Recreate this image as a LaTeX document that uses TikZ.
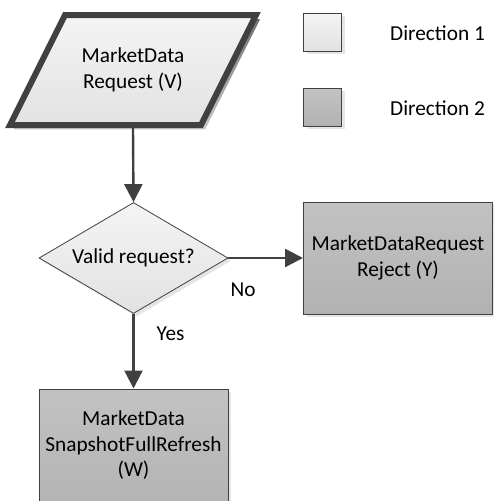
\documentclass[tikz,border=0pt]{standalone}
\usepackage{fontspec}
\setmainfont{Carlito}
\usetikzlibrary{shapes.geometric,arrows.meta,shadows}
\definecolor{edge}{HTML}{404040}
\definecolor{lighttop}{HTML}{F4F4F4}
\definecolor{lightbot}{HTML}{E2E2E2}
\definecolor{darktop}{HTML}{C2C2C2}
\definecolor{darkbot}{HTML}{B2B2B2}
\definecolor{shade}{HTML}{DADADA}
\tikzset{
  lbl/.style={font=\fontsize{21.3}{25.5}\selectfont, text=black, align=center},
  softshadow/.style={drop shadow={shadow xshift=3pt, shadow yshift=-3pt, fill=shade, opacity=0.7}},
  lightfill/.style={top color=lighttop, bottom color=lightbot},
  darkfill/.style={top color=darktop, bottom color=darkbot},
  procbox/.style={lbl, rectangle, draw=edge, line width=1pt, darkfill, softshadow,
    minimum width=189pt, minimum height=112pt, inner sep=0pt},
  decision/.style={lbl, diamond, draw=edge, line width=0.8pt, lightfill, softshadow,
    minimum width=189pt, minimum height=111pt, aspect=1.7, inner sep=0pt},
  keybox/.style={rectangle, draw=edge, line width=0.8pt, softshadow,
    minimum width=38pt, minimum height=38pt, inner sep=0pt},
  flow/.style={draw=edge, line width=2.4pt, -{Triangle[length=18pt, width=18pt]}},
  branch/.style={lbl, inner sep=0pt, anchor=west},
}
\begin{document}
\begin{tikzpicture}[x=1pt, y=-1pt]
  \useasboundingbox (0,0) rectangle (494,501);
  \clip (0,0) rectangle (494,501);

  % input parallelogram with heavy outline
  \fill[shade, opacity=0.7] (69,19) -- (260,19) -- (205,129) -- (14,129) -- cycle;
  \draw[lightfill, draw=edge, line width=6pt, line join=miter]
    (65,15) -- (256,15) -- (201,125) -- (10,125) -- cycle;
  \node[lbl, minimum width=120pt, minimum height=116pt, inner sep=0pt] (req) at (133,70)
    {MarketData\\Request (V)};

  % legend
  \node[keybox, lightfill] (key1) at (322.5,32) {};
  \node[branch] (key1txt) at (390,33) {Direction 1};
  \node[keybox, darkfill] (key2) at (322.5,107) {};
  \node[branch] (key2txt) at (390,108) {Direction 2};

  % decision and outcomes
  \node[decision] (valid) at (133.5,258) {Valid request?};
  \node[procbox] (reject) at (398,258) {MarketDataRequest\\Reject (Y)};
  \node[procbox, minimum height=130pt] (snap) at (133.5,454) {};
  \node[lbl] (snaptxt) at (133.5,445.5) {MarketData\\SnapshotFullRefresh\\(W)};

  % connectors
  \draw[flow] (valid.east) -- (reject.west)
    node[branch, pos=0, xshift=1pt, yshift=-32pt] (no) {No};
  \draw[flow] (req.south) -- (valid.north);
  \draw[flow] (valid.south) -- (snap.north)
    node[branch, pos=0.26, xshift=22pt] (yes) {Yes};
\end{tikzpicture}
\end{document}
